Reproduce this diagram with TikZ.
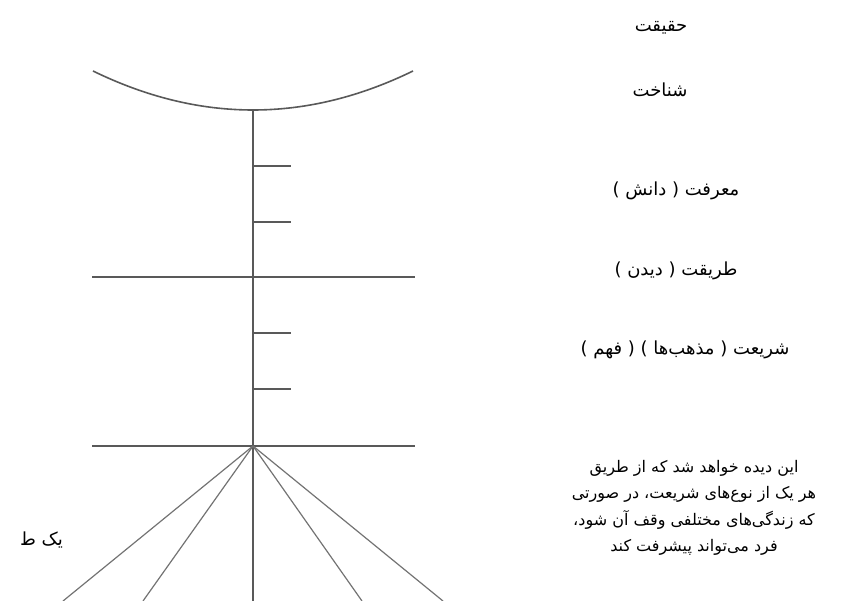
\documentclass[tikz,border=0pt]{standalone}
\usepackage{fontspec}
\newfontfamily\arabicfont[Script=Arabic]{DejaVu Sans}
\TeXXeTstate=1
\begin{document}
\begin{tikzpicture}[x=1pt,y=-1pt,
  line/.style={draw=black!65, line width=1.6pt},
  thin/.style={draw=black!55, line width=1.2pt},
  lbl/.style={font=\arabicfont\fontsize{18}{26}\selectfont, inner sep=0pt, text=black},
  para/.style={font=\arabicfont\fontsize{16}{26.5}\selectfont, inner sep=0pt, text=black, align=center}]
\useasboundingbox (0,0) rectangle (844,601);
% coordinates
\coordinate (arcL) at (93,71);
\coordinate (arcR) at (413,71);
\coordinate (top) at (253,110);
\coordinate (bot) at (253,601);
\coordinate (t1) at (253,166); \coordinate (t1e) at (291,166);
\coordinate (t2) at (253,222); \coordinate (t2e) at (291,222);
\coordinate (t3) at (253,333); \coordinate (t3e) at (291,333);
\coordinate (t4) at (253,389); \coordinate (t4e) at (291,389);
\coordinate (hL1) at (92,277); \coordinate (hR1) at (415,277);
\coordinate (hL2) at (92,446); \coordinate (hR2) at (415,446);
\coordinate (hub) at (253,446);
\coordinate (f1) at (63,601);
\coordinate (f2) at (143,601);
\coordinate (f4) at (362,601);
\coordinate (f5) at (443,601);
% lines
\draw[line] (arcL) .. controls (199.7,123) and (306.3,123) .. (arcR);
\draw[line] (top) -- (bot);
\draw[line] (t1) -- (t1e);
\draw[line] (t2) -- (t2e);
\draw[line] (t3) -- (t3e);
\draw[line] (t4) -- (t4e);
\draw[line] (hL1) -- (hR1);
\draw[line] (hL2) -- (hR2);
\draw[thin] (hub) -- (f1);
\draw[thin] (hub) -- (f2);
\draw[thin] (hub) -- (f4);
\draw[thin] (hub) -- (f5);
% labels
\node[lbl] (haqiqat) at (661,28) {\beginR حقیقت\endR};
\node[lbl] (shenakht) at (660,90) {\beginR شناخت\endR};
\node[lbl] (marefat) at (676,191) {\beginR معرفت ( دانش )\endR};
\node[lbl] (tariqat) at (676,271) {\beginR طریقت ( دیدن )\endR};
\node[lbl] (shariat) at (685,350) {\beginR شریعت ( مذهب‌ها ) ( فهم )\endR};
\node[para] (para) at (694,508) {\beginR این دیده خواهد شد که از طریق\endR\\
\beginR هر یک از نوع‌های شریعت، در صورتی\endR\\
\beginR که زندگی‌های مختلفی وقف آن شود،\endR\\
\beginR فرد می‌تواند پیشرفت کند\endR};
\node[lbl, anchor=east] (left) at (63,540) {\beginR یک ط‍\endR};
\end{tikzpicture}
\end{document}
